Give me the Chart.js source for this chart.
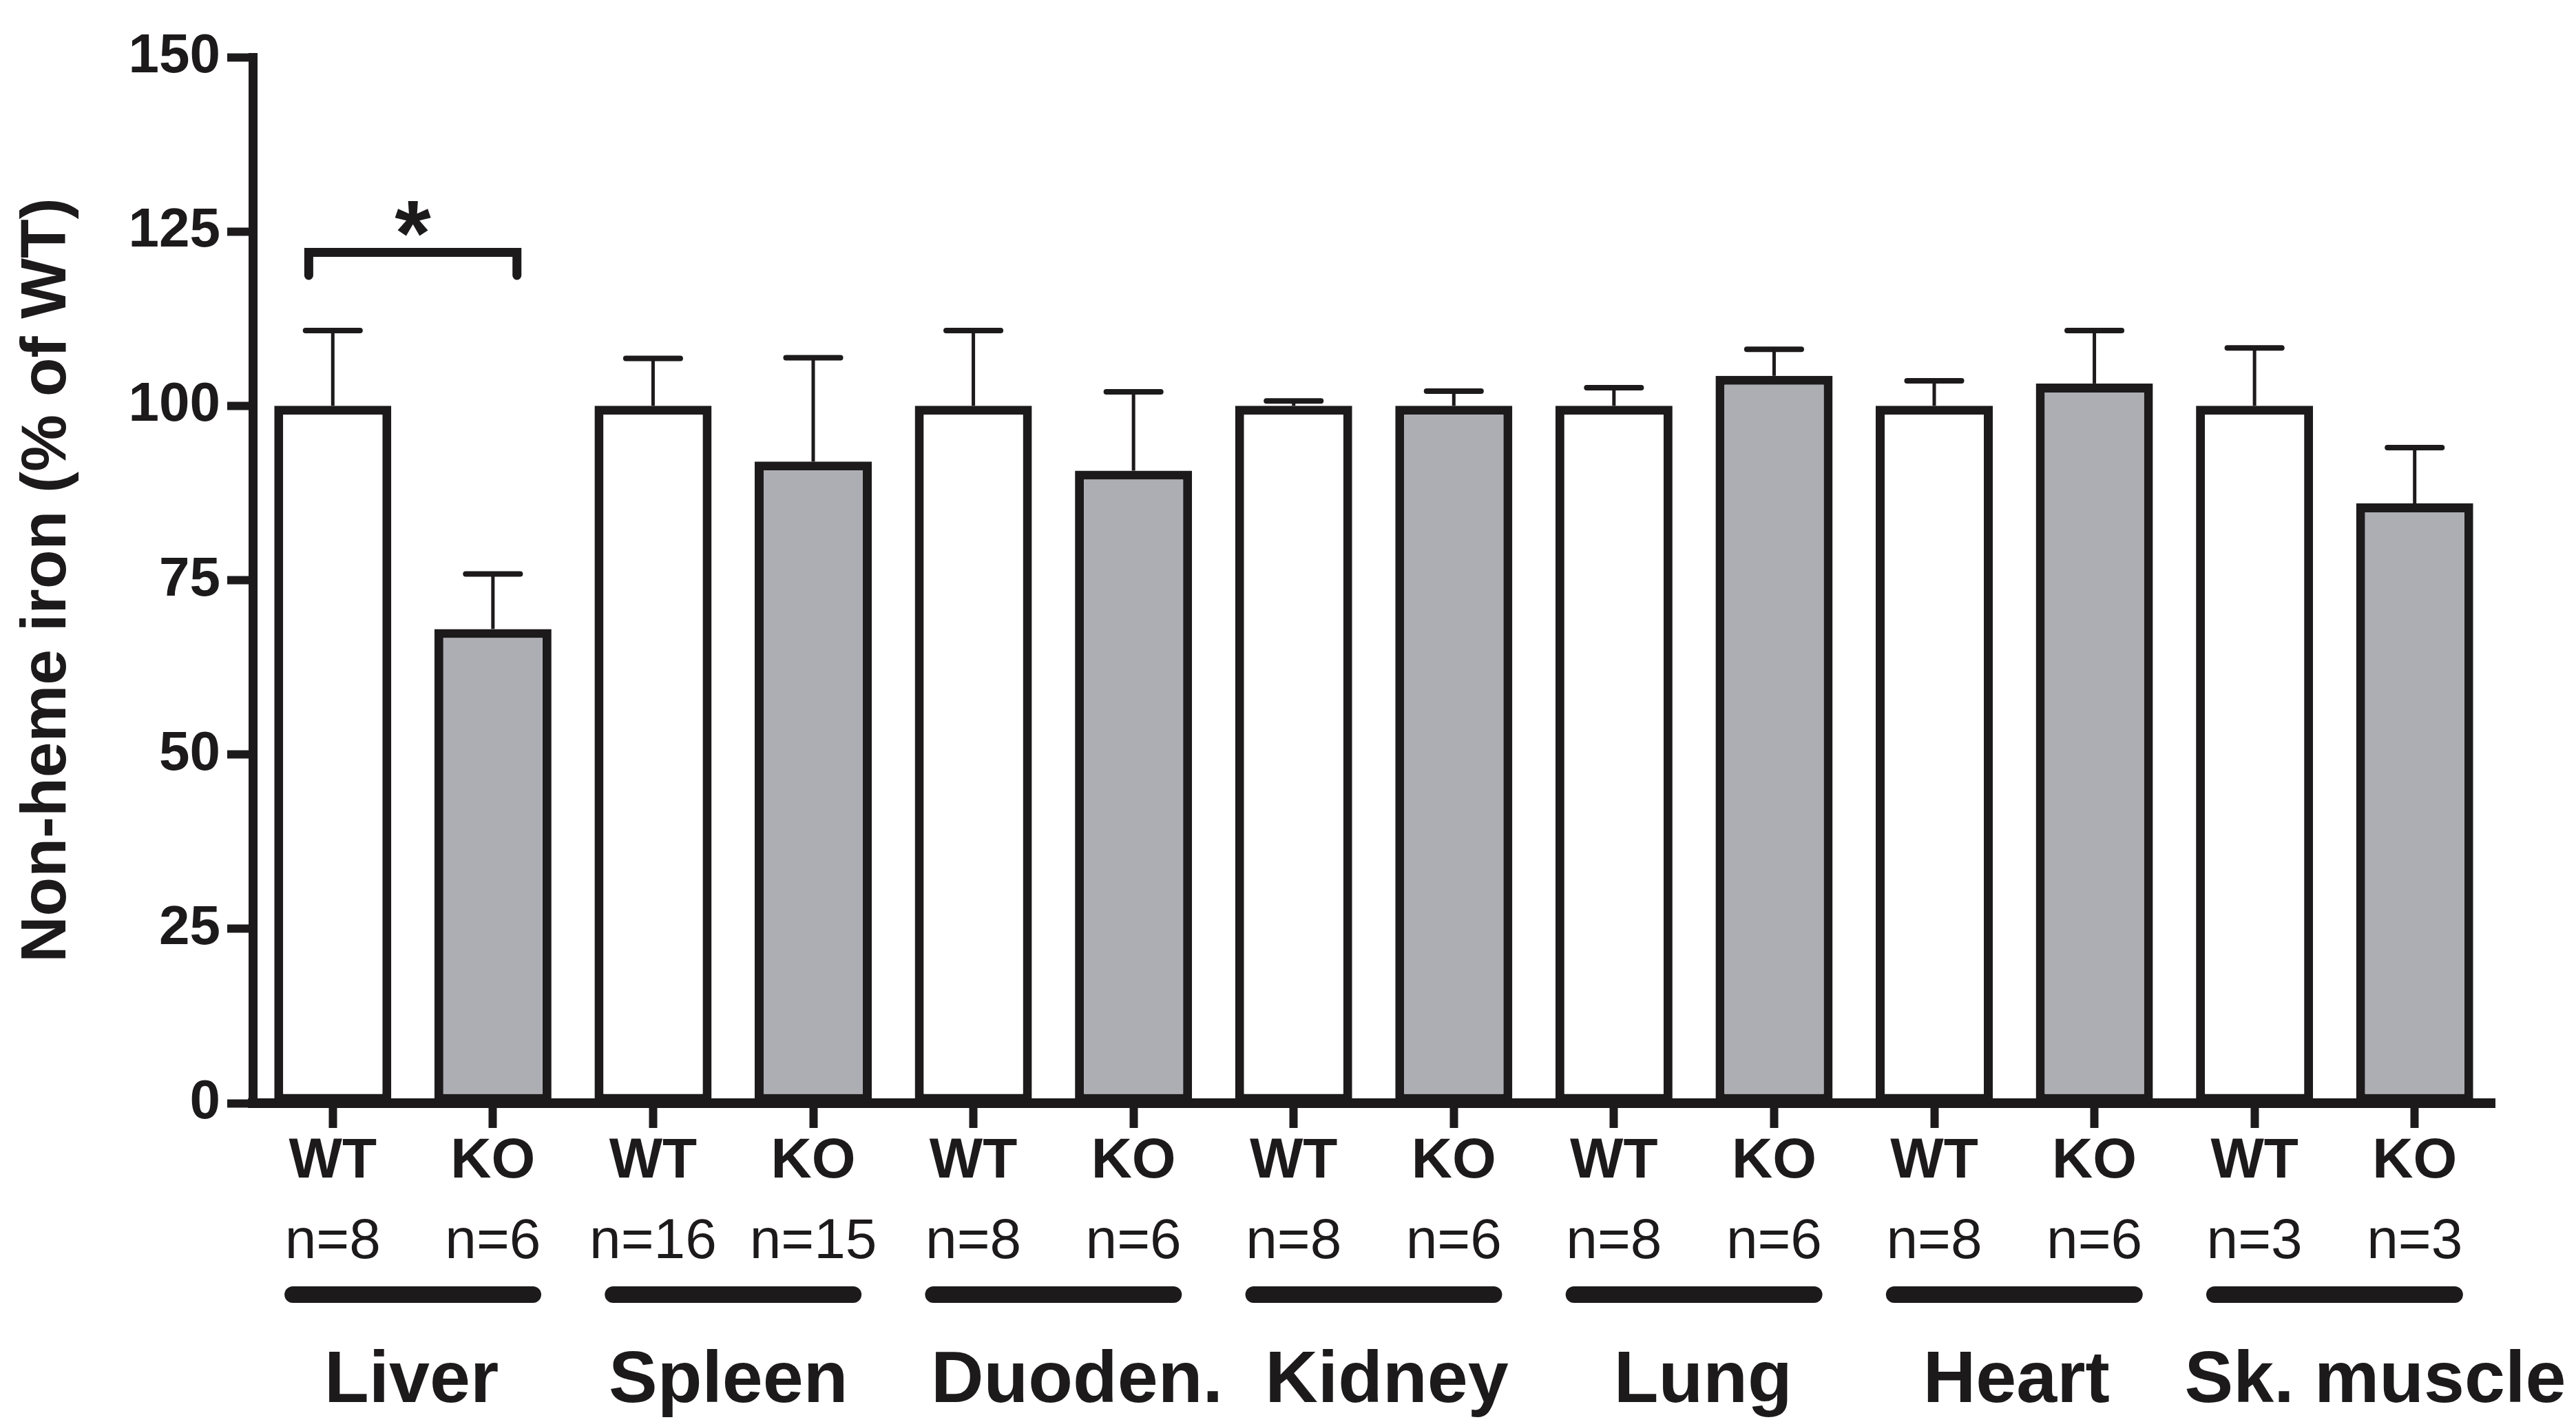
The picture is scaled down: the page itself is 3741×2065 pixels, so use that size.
<!DOCTYPE html>
<html>
<head>
<meta charset="utf-8">
<script src="https://cdn.jsdelivr.net/npm/chart.js@4/dist/chart.umd.min.js"></script>
<style>
  html, body { margin: 0; padding: 0; background: #ffffff; }
  #c { display: block; }
</style>
</head>
<body>
<canvas id="c" width="3741" height="2065"></canvas>
<script>
// ---------------- data ----------------
const organs    = ['Liver', 'Spleen', 'Duoden.', 'Kidney', 'Lung', 'Heart', 'Sk. muscle'];
const genotypes = ['WT', 'KO'];
const wtValues  = [100, 100, 100, 100, 100, 100, 100];
const wtErrors  = [10.8, 6.8, 10.8, 0.7, 2.6, 3.6, 8.3];
const koValues  = [68, 92, 90.7, 100, 104.3, 103.2, 86];
const koErrors  = [7.9, 14.9, 11.3, 2.1, 3.8, 7.6, 8.0];
const wtN       = [8, 16, 8, 8, 8, 8, 3];
const koN       = [6, 15, 6, 6, 6, 6, 3];
const yTicks    = [0, 25, 50, 75, 100, 125, 150];
const yTitle    = 'Non-heme iron (% of WT)';
const sigPair   = [0, 1];      // Liver WT vs Liver KO
const sigLevel  = 122;         // bracket height (y units)
const sigLegEnd = 118.7;       // bracket leg ends (y units)
const sigMark   = '*';

// ---------------- derived tables ----------------
const labels = [], values = [], errors = [], nLabels = [], fills = [];
organs.forEach((o, i) => {
  labels.push(genotypes[0], genotypes[1]);
  values.push(wtValues[i], koValues[i]);
  errors.push(wtErrors[i], koErrors[i]);
  nLabels.push('n=' + wtN[i], 'n=' + koN[i]);
});

const INK  = '#1c1a1b';
const GREY = '#adaeb3';
const FONT = '"Liberation Sans", Arial, Helvetica, sans-serif';
labels.forEach((l) => fills.push(l === 'WT' ? '#ffffff' : GREY));

// small horizontal nudges of the organ names as set in the original figure (px)
const organNudge = [-2, -7, 34, 19, 13, 3, 59];

const annot = {
  id: 'annot',
  afterDatasetsDraw(chart) {
    const { ctx, scales: { x, y } } = chart;
    const catW = x.getPixelForValue(1) - x.getPixelForValue(0);
    ctx.save();
    ctx.fillStyle = INK;
    ctx.strokeStyle = INK;

    // error bars (upper only)
    values.forEach((v, i) => {
      const cx = x.getPixelForValue(i);
      const y0 = y.getPixelForValue(v);
      const y1 = y.getPixelForValue(v + errors[i]);
      ctx.fillRect(cx - 2.5, y1, 5, y0 - y1);
      ctx.beginPath();
      ctx.lineWidth = 8;
      ctx.lineCap = 'round';
      ctx.moveTo(cx - catW * 0.17, y1);
      ctx.lineTo(cx + catW * 0.17, y1);
      ctx.stroke();
    });

    // significance bracket
    const bx0 = x.getPixelForValue(sigPair[0]) - catW * 0.15;
    const bx1 = x.getPixelForValue(sigPair[1]) + catW * 0.15;
    const byT = y.getPixelForValue(sigLevel);
    const byL = y.getPixelForValue(sigLegEnd);
    ctx.beginPath();
    ctx.lineWidth = 13;
    ctx.lineCap = 'round';
    ctx.lineJoin = 'miter';
    ctx.moveTo(bx0, byL);
    ctx.lineTo(bx0, byT);
    ctx.lineTo(bx1, byT);
    ctx.lineTo(bx1, byL);
    ctx.stroke();
    ctx.font = 'bold 135px ' + FONT;
    ctx.textAlign = 'center';
    ctx.textBaseline = 'alphabetic';
    ctx.fillText(sigMark, (bx0 + bx1) / 2, byT + 18);

    // n= labels
    const base = x.top;
    ctx.font = '82px ' + FONT;
    ctx.textAlign = 'center';
    ctx.textBaseline = 'middle';
    nLabels.forEach((t, i) => {
      ctx.fillText(t, x.getPixelForValue(i), base + 202);
    });

    // group bars + organ names
    organs.forEach((o, g) => {
      const c = (x.getPixelForValue(2 * g) + x.getPixelForValue(2 * g + 1)) / 2;
      const half = catW * 0.75;
      ctx.beginPath();
      ctx.lineWidth = 24;
      ctx.lineCap = 'round';
      ctx.moveTo(c - half, base + 278);
      ctx.lineTo(c + half, base + 278);
      ctx.stroke();
      ctx.font = 'bold 106px ' + FONT;
      ctx.textBaseline = 'alphabetic';
      ctx.fillText(o, c + organNudge[g], base + 434);
    });
    ctx.restore();
  }
};

new Chart(document.getElementById('c'), {
  type: 'bar',
  data: {
    labels: labels,
    datasets: [{
      data: values,
      backgroundColor: fills,
      borderColor: INK,
      borderWidth: 13,
      borderSkipped: false,
      barPercentage: 0.731,
      categoryPercentage: 1.0
    }]
  },
  options: {
    responsive: false,
    animation: false,
    devicePixelRatio: 1,
    layout: { padding: { top: 83, right: 118, left: 0, bottom: 0 } },
    plugins: { legend: { display: false }, tooltip: { enabled: false } },
    scales: {
      x: {
        type: 'category',
        offset: true,
        grid: { display: true, drawOnChartArea: false, drawTicks: true, tickLength: 36,
                tickWidth: 12, color: INK, offset: false },
        border: { display: true, width: 14, color: INK },
        ticks: { font: { family: FONT, size: 82, weight: 'bold' }, color: INK, padding: 0,
                 maxRotation: 0, autoSkip: false },
        afterFit(s) { s.height = 463; }
      },
      y: {
        min: 0, max: 150,
        afterBuildTicks(s) { s.ticks = yTicks.map(v => ({ value: v })); },
        ticks: { font: { family: FONT, size: 80, weight: 'bold' }, color: INK, padding: 10 },
        grid: { display: true, drawOnChartArea: false, drawTicks: true, tickLength: 37,
                tickWidth: 12, color: INK },
        border: { display: true, width: 13, color: INK },
        title: { display: true, text: yTitle, color: INK,
                 font: { family: FONT, size: 93, weight: 'bold' }, padding: { top: 14, bottom: 0 } },
        afterFit(s) { s.width = 367; }
      }
    }
  },
  plugins: [annot]
});
</script>
</body>
</html>
